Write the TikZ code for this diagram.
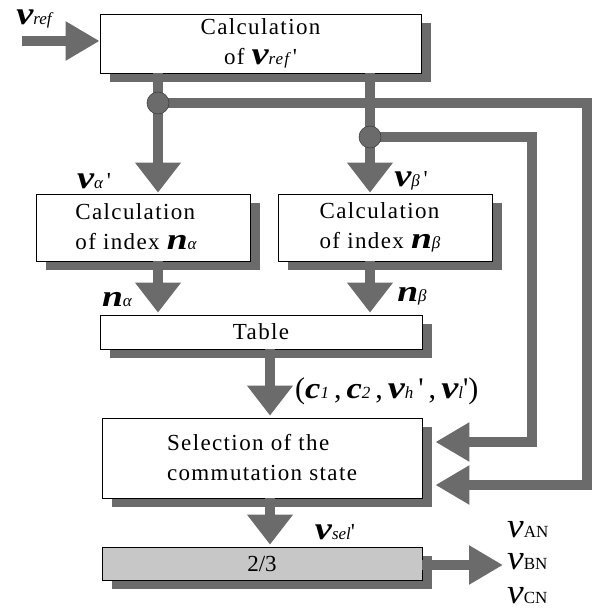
\documentclass[tikz,border=0pt]{standalone}
\usepackage{fontspec}
\setmainfont{Liberation Serif}
\newfontfamily\boxfont{Liberation Serif}[LetterSpace=6]
\usetikzlibrary{arrows.meta,shadows}
\colorlet{pat}{black!58}
\colorlet{patlight}{black!22}
\newcommand\bv{\scalebox{1.2}[1]{\fontsize{32}{32}\selectfont\bfseries\itshape v}}
\newcommand\bn{\scalebox{1.25}[1]{\fontsize{30}{30}\selectfont\bfseries\itshape n}}
\newcommand\bc{\scalebox{1.15}[1]{\fontsize{30}{30}\selectfont\bfseries\itshape c}}
\newcommand\sbs[1]{{\fontsize{17}{17}\selectfont\itshape #1}}
\newcommand\prm{\textquotesingle}
\newcommand\bigv{\scalebox{1.5}[1.4]{\fontsize{25}{25}\selectfont\itshape v}}
\tikzset{
  box/.style={draw=black, line width=0.8pt, fill=white, inner sep=0pt,
    drop shadow={shadow xshift=10pt, shadow yshift=-9pt, fill=pat, opacity=1}},
  txt/.style={align=center, inner sep=0pt, font=\boxfont\fontsize{23}{30}\selectfont},
  lab/.style={inner sep=0pt, font=\fontsize{23}{28}\selectfont},
  outlab/.style={inner sep=0pt, anchor=west, font=\fontsize{17}{17}\selectfont},
  conn/.style={draw=pat, line width=10pt},
  arrV/.style={conn, -{Triangle[length=30pt,width=44pt]}},
  arrH/.style={conn, -{Triangle[length=34pt,width=37pt]}},
  junc/.style={circle, fill=pat, draw=black!75, line width=0.6pt, minimum size=22pt, inner sep=0pt}
}
\begin{document}
\begin{tikzpicture}[x=1pt,y=-1pt]
\fill[white] (0,0) rectangle (592,612);
\useasboundingbox (0,0) rectangle (592,612);
% boxes
\node[box, minimum width=321pt, minimum height=59pt] (b1) at (260.5,43.5) {};
\node[txt] (t1) at (b1) {Calculation\\of \bv\sbs{ref}\,\prm};
\node[box, minimum width=214pt, minimum height=67pt] (ba) at (143,227.5) {};
\node[txt, align=left] (ta) at (136,227) {Calculation\\of index \bn\sbs{α}};
\node[box, minimum width=214pt, minimum height=67pt] (bb) at (385,227.5) {};
\node[txt, align=left] (tb2) at (380,227) {Calculation\\of index \bn\sbs{β}};
\node[box, minimum width=322pt, minimum height=34pt] (tb) at (261,332) {};
\node[txt] (tt) at (tb) {Table};
\node[box, minimum width=320pt, minimum height=80pt] (bs) at (262,458) {};
\node[txt, align=left] (ts) at (bs) {Selection of the\\commutation state};
\node[box, fill=patlight, minimum width=320pt, minimum height=33pt] (b23) at (262,563.5) {};
\node[lab] (t23) at (b23) {2/3};
% coordinates
\coordinate (in) at (22,41);
\coordinate (j1) at (158,103);
\coordinate (j2) at (370,137);
\coordinate (fa0) at (532,137);
\coordinate (fa1) at (532,442);
\coordinate (fb0) at (587,103);
\coordinate (fb1) at (587,485);
\coordinate (x270) at (270,0);
\coordinate (out) at (503,565);
\path ([xshift=13pt]bs.east) coordinate (bse);
% connectors
\draw[arrH] (in) -- (in -| b1.west);
\draw[conn] (b1.south -| j1) -- (j1);
\draw[arrV] (j1) -- ([yshift=1pt]ba.north -| j1);
\draw[conn] (b1.south -| j2) -- (j2);
\draw[arrV] (j2) -- ([yshift=1pt]bb.north -| j2);
\draw[arrH] (j1) -- (fb0) -- (fb1) -- (bse |- fb1);
\draw[arrH] (j2) -- (fa0) -- (fa1) -- (bse |- fa1);
\draw[arrV] (ba.south -| j1) -- ([yshift=2pt]tb.north -| j1);
\draw[arrV] (bb.south -| j2) -- ([yshift=2pt]tb.north -| j2);
\draw[arrV] (tb.south -| x270) -- ([yshift=2pt]bs.north -| x270);
\draw[arrV] (bs.south -| x270) -- ([yshift=2pt]b23.north -| x270);
\draw[arrH] (b23.east |- out) -- (out);
\node[junc] (jc1) at (j1) {};
\node[junc] (jc2) at (j2) {};
% labels
\node[lab] (lvref) at (34,19) {\bv\sbs{ref}};
\node[lab] (lva) at (94,181) {\bv\sbs{α}\,\prm};
\node[lab] (lvb) at (411,181) {\bv\sbs{β}\,\prm};
\node[lab] (lna) at (117,300) {\bn\sbs{α}};
\node[lab] (lnb) at (412,296) {\bn\sbs{β}};
\node[lab, anchor=west, font=\fontsize{30}{30}\selectfont] (lc) at (295,391) {(\bc\sbs{1}\,,\,\bc\sbs{2}\,,\,\bv\sbs{h}\,\prm\,,\,\bv\sbs{l}\prm)};
\node[lab] (lsel) at (335,532) {\bv\sbs{sel}\prm};
\node[outlab] (lan) at (507,530) {\bigv AN};
\node[outlab] (lbn) at (507,562) {\bigv BN};
\node[outlab] (lcn) at (507,596) {\bigv CN};
\end{tikzpicture}
\end{document}
